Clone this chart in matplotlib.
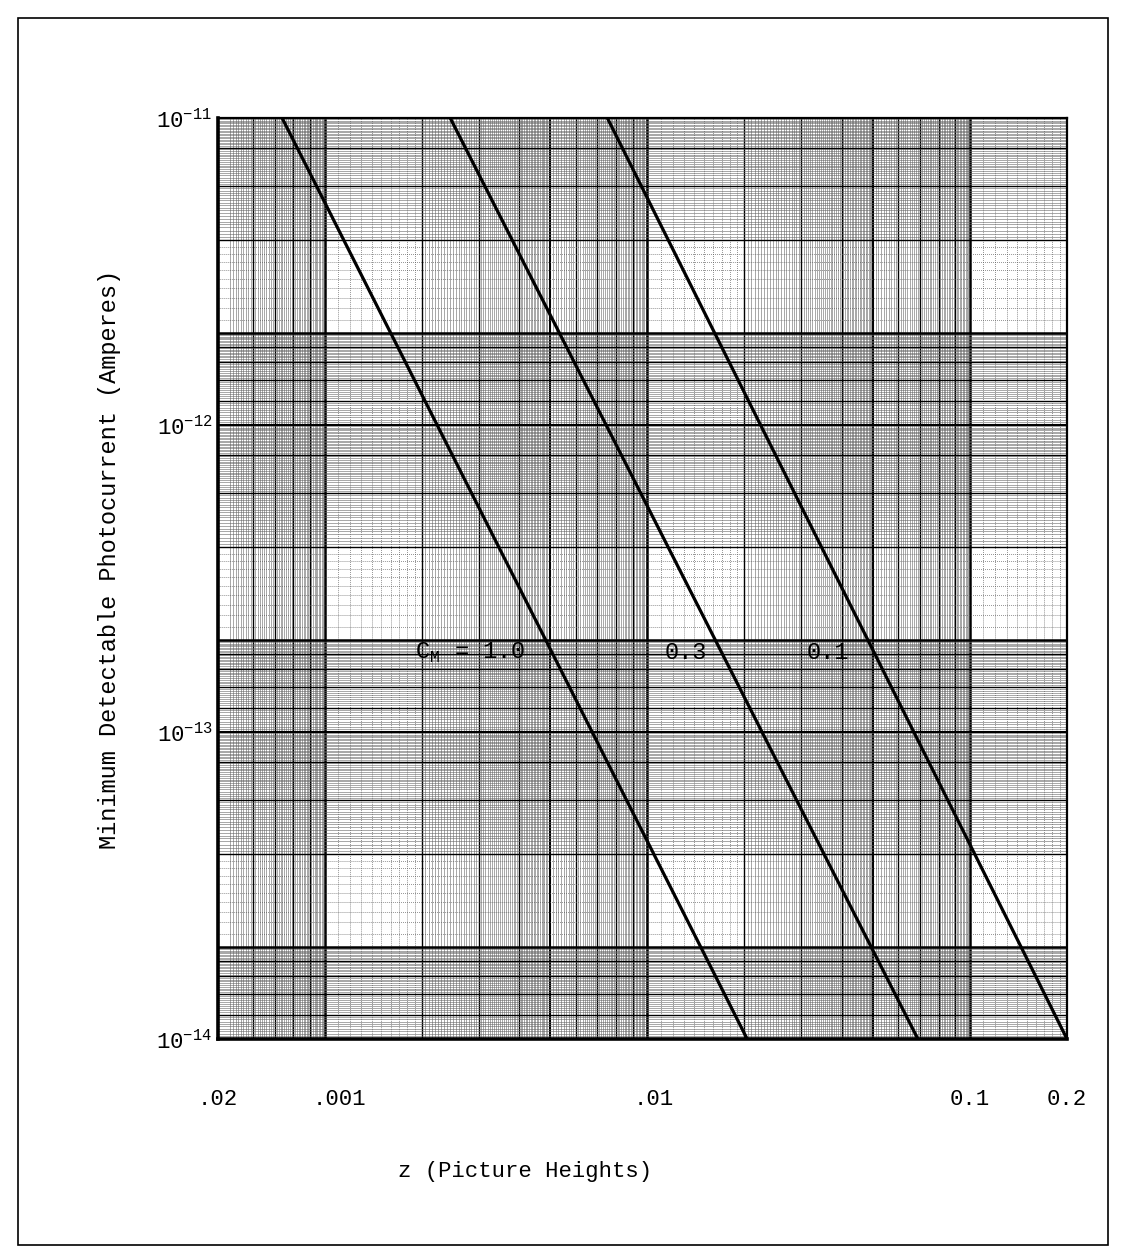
import numpy as np
import matplotlib.pyplot as plt
from matplotlib.patches import Rectangle

plt.rcParams['font.family'] = ['Liberation Mono', 'DejaVu Sans Mono']
plt.rcParams['mathtext.fontset'] = 'custom'
plt.rcParams['mathtext.rm'] = 'Liberation Mono'

# curves: z at the top (1e-11 A) and at the bottom (1e-14 A) of the chart
cm_labels = ['1.0', '0.3', '0.1']
i_ends = [1e-11, 1e-14]
z_top = [0.000738, 0.00245, 0.00752]
z_bot = [0.0204, 0.069, 0.2]

# label positions (z, current), left edge of the text
label_z = [0.0019, 0.0113, 0.0311]
label_i = [1.81e-13, 1.81e-13, 1.81e-13]

x_ticks = [0.000467, 0.00111, 0.0105, 0.1, 0.2]
x_ticklabels = ['.02', '.001', '.01', '0.1', '0.2']
y_ticks = [1e-14, 1e-13, 1e-12, 1e-11]
y_ticklabels = [r'$\mathregular{10^{-14}}$', r'$\mathregular{10^{-13}}$',
                r'$\mathregular{10^{-12}}$', r'$\mathregular{10^{-11}}$']

fig = plt.figure(figsize=(11.22, 12.6), dpi=100)
ax = fig.add_axes([218 / 1122, 1 - 1039 / 1260, 849 / 1122, 921 / 1260])
ax.set_xscale('log')
ax.set_yscale('log')
xmin, xmax = 0.0005, 0.2
ymin, ymax = 1e-14, 1e-11
ax.set_xlim(xmin, xmax)
ax.set_ylim(ymin, ymax)


# log graph paper
def paper(bases):
    out = []
    for b in bases:
        for m in np.arange(1.0, 2.0, 0.1):
            out.append((b * m, 'fine1'))
        for m in np.arange(2.0, 5.0, 0.05):
            out.append((b * m, 'fine2'))
        for m in np.arange(5.0, 10.0, 0.1):
            out.append((b * m, 'fine2'))
        for m in [2, 3, 4, 6, 7, 8, 9]:
            out.append((b * m, 'int'))
        out.append((b * 5, 'five'))
        out.append((b, 'cycle'))
    return out


styles = {
    'fine1': dict(color='#555555', lw=0.55, ls=(0, (1, 1.6))),
    'fine2': dict(color='#666666', lw=0.4, ls='-'),
    'int': dict(color='black', lw=1.0, ls='-'),
    'five': dict(color='black', lw=1.5, ls='-'),
    'cycle': dict(color='black', lw=1.8, ls='-'),
}
for v, kind in paper([1e-4, 1e-3, 1e-2, 1e-1]):
    if xmin < v < xmax:
        ax.axvline(v, zorder=1, **styles[kind])
for v, kind in paper([2e-15, 2e-14, 2e-13, 2e-12]):
    if ymin < v < ymax:
        ax.axhline(v, zorder=1, **styles[kind])

for zt, zb in zip(z_top, z_bot):
    ax.plot([zt, zb], i_ends, color='black', lw=2.3, zorder=3)

ax.text(label_z[0], label_i[0], r'C$_\mathregular{M}$ = ' + cm_labels[0],
        fontsize=17, ha='left', va='center', zorder=4)
ax.text(label_z[1], label_i[1], cm_labels[1], fontsize=17, ha='left',
        va='center', zorder=4)
ax.text(label_z[2], label_i[2], cm_labels[2], fontsize=17, ha='left',
        va='center', zorder=4)

ax.set_xticks(x_ticks, x_ticklabels)
ax.set_yticks(y_ticks, y_ticklabels)
ax.minorticks_off()
ax.tick_params(length=0, labelsize=16)
ax.tick_params(axis='x', pad=36)
ax.tick_params(axis='y', pad=4)
for s in ['left', 'bottom']:
    ax.spines[s].set_linewidth(2.6)
for s in ['top', 'right']:
    ax.spines[s].set_linewidth(1.6)

fig.text(110 / 1122, 1 - 559 / 1260,
         'Minimum Detectable Photocurrent (Amperes)', fontsize=17,
         rotation=90, ha='center', va='center')
fig.text(525 / 1122, 1 - 1172 / 1260, 'z (Picture Heights)', fontsize=16,
         ha='center', va='center')

fig.patches.append(Rectangle((18 / 1122, 1 - 1245 / 1260), 1090 / 1122,
                             1227 / 1260, transform=fig.transFigure,
                             fill=False, lw=1.2, color='black'))

fig.savefig('out.png', dpi=100)
